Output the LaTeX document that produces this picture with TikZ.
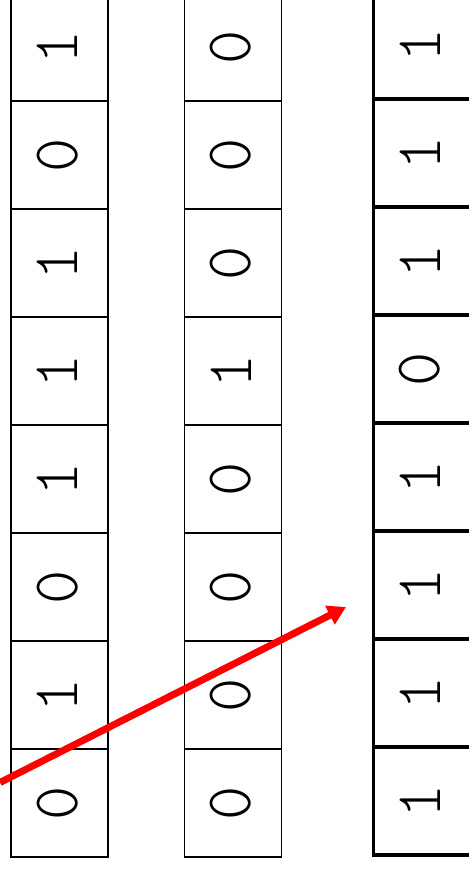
\documentclass[tikz,border=0pt]{standalone}
\usepackage{fontspec}
\setmonofont{Latin Modern Mono Light}
\usetikzlibrary{arrows.meta}
\newcommand{\bitup}[1]{\raisebox{2pt}[\height][\depth]{#1}}
\tikzset{
  bitcell/.style={draw=black, line width=1.7pt, rotate=90, minimum width=108pt, minimum height=97pt, inner sep=0pt, font=\ttfamily\fontsize{65}{65}\selectfont},
  boldcell/.style={bitcell, line width=3.4pt},
  redarrow/.style={draw=red, line width=7pt, -{Triangle[length=18pt,width=20pt]}}
}
\begin{document}
\begin{tikzpicture}[x=1pt,y=-1pt]
\useasboundingbox (0,0) rectangle (469,871);
\begin{scope}
\clip (0,0) rectangle (469,871);
% column 1
\foreach \b [count=\i] in {1,0,1,1,1,0,1,0}{
  \node[bitcell] (a\i) at (59.5,{-61+108*\i}) {\bitup{\b}};
}
% column 2
\foreach \b [count=\i] in {0,0,0,1,0,0,0,0}{
  \node[bitcell] (b\i) at (233,{-61+108*\i}) {\bitup{\b}};
}
% column 3
\foreach \b [count=\i] in {1,1,1,0,1,1,1,1}{
  \node[boldcell] (c\i) at (422,{-63+108*\i}) {\bitup{\b}};
}
\coordinate (s) at (0,782.5);
\coordinate (t) at (346,607);
\draw[redarrow] (s) -- (t);
\end{scope}
\end{tikzpicture}
\end{document}
